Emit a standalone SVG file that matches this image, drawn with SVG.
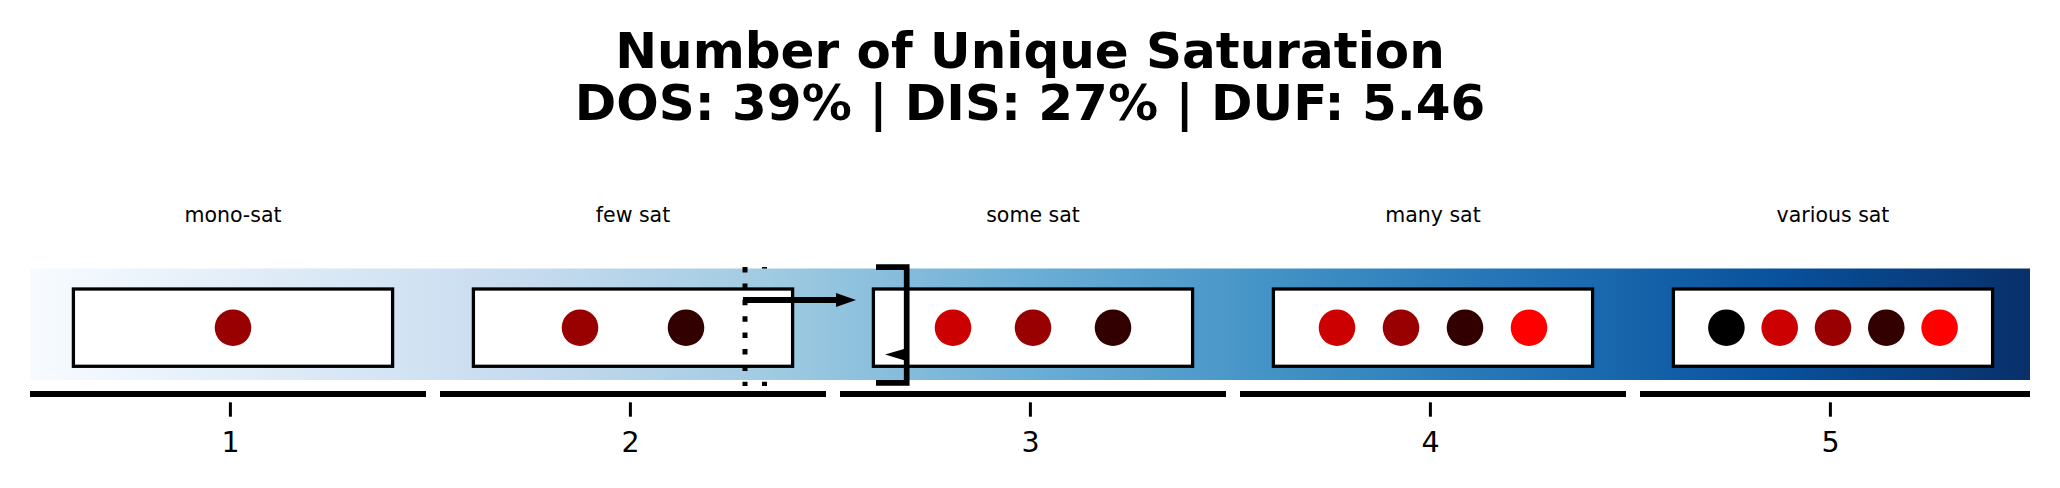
<svg xmlns="http://www.w3.org/2000/svg" width="2060" height="488" viewBox="0 0 2060 488">
<defs>
  <linearGradient id="blues" x1="30" y1="0" x2="2030" y2="0" gradientUnits="userSpaceOnUse">
    <stop offset="0" stop-color="#f7fbff"/>
    <stop offset="0.125" stop-color="#deebf7"/>
    <stop offset="0.25" stop-color="#c6dbef"/>
    <stop offset="0.375" stop-color="#9ecae1"/>
    <stop offset="0.5" stop-color="#6baed6"/>
    <stop offset="0.625" stop-color="#4292c6"/>
    <stop offset="0.75" stop-color="#2171b5"/>
    <stop offset="0.875" stop-color="#08519c"/>
    <stop offset="1" stop-color="#08306b"/>
  </linearGradient>
  <marker id="head" markerWidth="20" markerHeight="14" refX="0" refY="7" orient="auto" markerUnits="userSpaceOnUse">
    <path d="M0,0 L20,7 L0,14 Z" fill="#000"/>
  </marker>
  <style>
    .title{font-family:"DejaVu Sans",sans-serif;font-weight:bold;font-size:50px;text-anchor:middle;fill:#000}
    .cat{font-family:"DejaVu Sans",sans-serif;font-size:20.5px;text-anchor:middle;fill:#000}
    .num{font-family:"DejaVu Sans",sans-serif;font-size:28.5px;text-anchor:middle;fill:#000}
    .box{fill:#fff;stroke:#000;stroke-width:3.3}
    .seg{stroke:#000;stroke-width:6}
    .tk{stroke:#000;stroke-width:3}
    .dot{stroke:#000;stroke-width:5;stroke-dasharray:5.5 10.9;stroke-dashoffset:-3;fill:none}
    .c0{fill:#000000}.c1{fill:#cc0000}.c2{fill:#990000}.c3{fill:#330000}.c4{fill:#ff0000}
  </style>
</defs>
<rect width="2060" height="488" fill="#fff"/>
<g id="title">
  <text class="title" x="1030" y="68.3">Number of Unique Saturation</text>
  <text class="title" x="1030" y="120">DOS: 39% | DIS: 27% | DUF: 5.46</text>
</g>
<g id="under">
  <line class="dot" x1="764.5" y1="264" x2="764.5" y2="386"/>
</g>
<rect id="band" x="30" y="268.5" width="2000" height="111.5" fill="url(#blues)"/>
<g id="node1">
  <text class="cat" x="233" y="222">mono-sat</text>
  <rect class="box" x="73.4" y="289" width="319.2" height="77.3"/>
  <circle class="c2" cx="233" cy="327.7" r="18.3"/>
</g>
<g id="node2">
  <text class="cat" x="633" y="222">few sat</text>
  <rect class="box" x="473.4" y="289" width="319.2" height="77.3"/>
  <circle class="c2" cx="580" cy="327.7" r="18.3"/>
  <circle class="c3" cx="686" cy="327.7" r="18.3"/>
</g>
<g id="node3">
  <text class="cat" x="1033" y="222">some sat</text>
  <rect class="box" x="873.4" y="289" width="319.2" height="77.3"/>
  <circle class="c1" cx="953" cy="327.7" r="18.3"/>
  <circle class="c2" cx="1033" cy="327.7" r="18.3"/>
  <circle class="c3" cx="1113" cy="327.7" r="18.3"/>
</g>
<g id="node4">
  <text class="cat" x="1433" y="222">many sat</text>
  <rect class="box" x="1273.4" y="289" width="319.2" height="77.3"/>
  <circle class="c1" cx="1337" cy="327.7" r="18.3"/>
  <circle class="c2" cx="1401" cy="327.7" r="18.3"/>
  <circle class="c3" cx="1465" cy="327.7" r="18.3"/>
  <circle class="c4" cx="1529" cy="327.7" r="18.3"/>
</g>
<g id="node5">
  <text class="cat" x="1833" y="222">various sat</text>
  <rect class="box" x="1673.4" y="289" width="319.2" height="77.3"/>
  <circle class="c0" cx="1726.4" cy="327.7" r="18.3"/>
  <circle class="c1" cx="1779.7" cy="327.7" r="18.3"/>
  <circle class="c2" cx="1833" cy="327.7" r="18.3"/>
  <circle class="c3" cx="1886.3" cy="327.7" r="18.3"/>
  <circle class="c4" cx="1939.6" cy="327.7" r="18.3"/>
</g>
<g id="axis">
  <line class="seg" x1="30" y1="394" x2="426" y2="394"/>
  <line class="seg" x1="440" y1="394" x2="826" y2="394"/>
  <line class="seg" x1="840" y1="394" x2="1226" y2="394"/>
  <line class="seg" x1="1240" y1="394" x2="1626" y2="394"/>
  <line class="seg" x1="1640" y1="394" x2="2030" y2="394"/>
  <line class="tk" x1="230.4" y1="402.3" x2="230.4" y2="416.7"/>
  <line class="tk" x1="630.4" y1="402.3" x2="630.4" y2="416.7"/>
  <line class="tk" x1="1030.4" y1="402.3" x2="1030.4" y2="416.7"/>
  <line class="tk" x1="1430.4" y1="402.3" x2="1430.4" y2="416.7"/>
  <line class="tk" x1="1830.4" y1="402.3" x2="1830.4" y2="416.7"/>
  <text class="num" x="230.6" y="452.3">1</text>
  <text class="num" x="630.6" y="452.3">2</text>
  <text class="num" x="1030.6" y="452.3">3</text>
  <text class="num" x="1430.6" y="452.3">4</text>
  <text class="num" x="1830.6" y="452.3">5</text>
</g>
<g id="connectors">
  <line class="dot" x1="745" y1="264" x2="745" y2="386"/>
  <line x1="743" y1="300" x2="836" y2="300" stroke="#000" stroke-width="6" marker-end="url(#head)"/>
  <path d="M876,267.2 L906.7,267.2 L906.7,382.8 L876,382.8" fill="none" stroke="#000" stroke-width="5.7"/>
  <path d="M885,354.6 L904,349 L904,360.2 Z" fill="#000"/>
</g>
</svg>
